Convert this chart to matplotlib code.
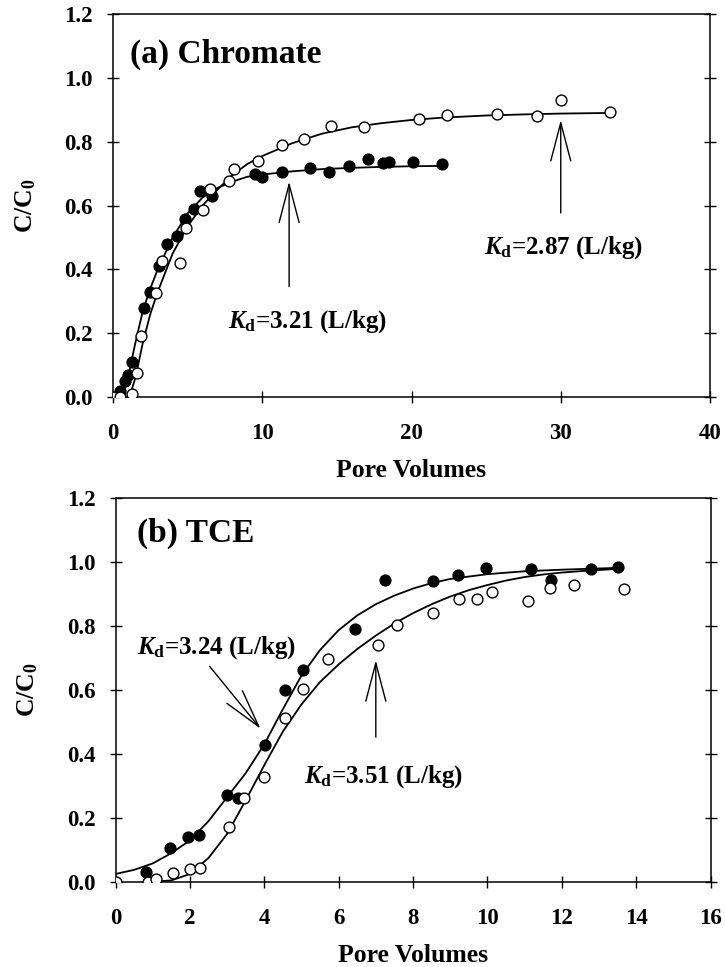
import matplotlib
matplotlib.use("Agg")
import matplotlib.pyplot as plt

plt.rcParams['font.family'] = ['Liberation Serif', 'DejaVu Serif']
plt.rcParams['font.weight'] = 'bold'
plt.rcParams['mathtext.fontset'] = 'custom'
plt.rcParams['mathtext.rm'] = 'Liberation Serif:bold'
plt.rcParams['mathtext.it'] = 'Liberation Serif:italic:bold'
plt.rcParams['mathtext.bf'] = 'Liberation Serif:bold'

# (a) Chromate - measured points
a_open_x = [0, 0.5, 1.25, 1.6, 1.9, 2.9, 3.3, 4.5, 4.9, 6.0, 6.5, 7.8, 8.1, 9.7,
            11.35, 12.8, 14.6, 16.8, 20.5, 22.4, 25.7, 28.4, 30.0, 33.3]
a_open_y = [0, 0, 0.01, 0.074, 0.19, 0.325, 0.425, 0.42, 0.53, 0.585, 0.653, 0.677,
            0.715, 0.74, 0.788, 0.807, 0.85, 0.847, 0.871, 0.882, 0.886, 0.879, 0.929, 0.894]
a_fill_x = [0.5, 0.8, 1.0, 1.3, 2.1, 2.5, 3.1, 3.6, 4.3, 4.8, 5.4, 5.8, 6.6, 9.5,
            10.0, 11.35, 13.2, 14.5, 15.8, 17.1, 18.1, 18.5, 20.1, 22.05]
a_fill_y = [0.02, 0.05, 0.07, 0.11, 0.28, 0.33, 0.41, 0.48, 0.505, 0.558, 0.59, 0.644,
            0.63, 0.70, 0.688, 0.706, 0.719, 0.706, 0.725, 0.745, 0.732, 0.736, 0.736, 0.73]

# (a) fitted curves
a_fit1_x = [0.6, 1.0, 1.5, 2.0, 2.5, 3.0, 3.5, 4.0, 5.0, 6.0, 7.0, 8.0, 9.0, 10.0,
            12.0, 14.0, 16.0, 18.0, 20.0, 22.05]
a_fit1_y = [0.0, 0.06, 0.17, 0.27, 0.34, 0.40, 0.45, 0.50, 0.575, 0.625, 0.655, 0.675,
            0.69, 0.697, 0.707, 0.714, 0.718, 0.721, 0.723, 0.724]
a_fit2_x = [1.1, 1.5, 2.0, 2.5, 3.0, 3.5, 4.0, 5.0, 6.0, 7.0, 8.0, 9.0, 10.0, 12.0,
            14.0, 16.0, 18.0, 20.0, 22.0, 25.0, 28.0, 30.0, 33.3]
a_fit2_y = [0.0, 0.06, 0.17, 0.26, 0.33, 0.39, 0.45, 0.535, 0.60, 0.65, 0.695, 0.73,
            0.755, 0.795, 0.825, 0.845, 0.858, 0.868, 0.875, 0.882, 0.886, 0.888, 0.89]

# (b) TCE - measured points
b_fill_x = [0.83, 1.47, 1.94, 2.24, 3.0, 3.29, 4.03, 4.57, 5.05, 6.44, 7.24, 8.54,
            9.22, 9.97, 11.16, 11.7, 12.78, 13.5]
b_fill_y = [0.031, 0.106, 0.141, 0.146, 0.271, 0.263, 0.427, 0.601, 0.664, 0.792,
            0.943, 0.94, 0.958, 0.982, 0.977, 0.943, 0.979, 0.984]
b_open_x = [0, 0.87, 1.1, 1.54, 1.99, 2.26, 3.06, 3.45, 3.99, 4.55, 5.04, 5.72, 7.05,
            7.57, 8.54, 9.25, 9.72, 10.13, 11.09, 11.69, 12.33, 13.68]
b_open_y = [0, 0, 0.01, 0.028, 0.04, 0.044, 0.172, 0.264, 0.328, 0.511, 0.604, 0.696,
            0.742, 0.804, 0.842, 0.883, 0.883, 0.906, 0.877, 0.92, 0.927, 0.917]

# (b) fitted curves
b_fit1_x = [0, 0.5, 1.0, 1.5, 2.0, 2.5, 3.0, 3.5, 4.0, 4.5, 5.0, 5.5, 6.0, 6.5, 7.0,
            7.5, 8.0, 8.5, 9.0, 10.0, 11.0, 12.0, 13.6]
b_fit1_y = [0.025, 0.038, 0.058, 0.09, 0.13, 0.19, 0.265, 0.34, 0.43, 0.54, 0.645,
            0.725, 0.787, 0.833, 0.868, 0.895, 0.917, 0.934, 0.947, 0.962, 0.971, 0.976, 0.982]
b_fit2_x = [0.9, 1.5, 2.0, 2.5, 3.0, 3.5, 4.0, 4.5, 5.0, 5.5, 6.0, 6.5, 7.0, 7.5, 8.0,
            8.5, 9.0, 9.5, 10.0, 10.5, 11.0, 11.5, 12.0, 12.7, 13.6]
b_fit2_y = [0.0, 0.005, 0.025, 0.075, 0.15, 0.255, 0.365, 0.47, 0.555, 0.625, 0.68,
            0.728, 0.77, 0.808, 0.84, 0.868, 0.892, 0.912, 0.928, 0.942, 0.953, 0.961,
            0.967, 0.973, 0.979]

fig = plt.figure(figsize=(7.25, 9.67), dpi=100)
ax1 = fig.add_axes([113 / 725, 1 - 397 / 967, 597 / 725, 383 / 967])
ax2 = fig.add_axes([115.5 / 725, 1 - 882 / 967, 595 / 725, 384 / 967])

ms = 7.8
tick_fs = 16.5
lab_fs = 18.5
ann_fs = 18


def style(ax, xmax, xstep):
    ax.set_xlim(0, xmax)
    ax.set_ylim(0, 1.2)
    ax.set_xticks(range(0, xmax + 1, xstep))
    ax.set_yticks([0, 0.2, 0.4, 0.6, 0.8, 1.0, 1.2])
    ax.set_yticklabels(['0.0', '0.2', '0.4', '0.6', '0.8', '1.0', '1.2'])
    ax.tick_params(direction='inout', length=9, width=1, labelsize=tick_fs, right=True)
    ax.tick_params(axis='y', pad=10)
    ax.tick_params(axis='x', pad=14)
    for s in ax.spines.values():
        s.set_linewidth(1.1)
    ax.set_xlabel('Pore Volumes', fontsize=lab_fs, fontweight='bold', labelpad=11)
    ax.set_ylabel('C/C$_\\mathrm{0}$', fontsize=lab_fs, fontweight='bold', labelpad=19)


arrow = dict(arrowstyle='->,head_length=2.75,head_width=0.72', lw=1, color='black',
             shrinkA=0, shrinkB=0)

# panel (a)
ax1.plot(a_fit1_x, a_fit1_y, '-', color='black', lw=1.3, zorder=2)
ax1.plot(a_fit2_x, a_fit2_y, '-', color='black', lw=1.3, zorder=2)
ax1.plot(a_fill_x, a_fill_y, 'o', color='black', ms=ms, zorder=3)
ax1.plot(a_open_x, a_open_y, 'o', mfc='white', mec='black', mew=1, ms=ms, zorder=4)
style(ax1, 40, 10)
ax1.text(1.15, 1.072, '(a) Chromate', fontsize=24, fontweight='bold', va='center')
ax1.annotate('', xy=(11.8, 0.675), xytext=(11.8, 0.346), arrowprops=arrow)
ax1.text(13.0, 0.236, '$K_\\mathrm{d}$=3.21 (L/kg)', fontsize=ann_fs, ha='center', va='center')
ax1.annotate('', xy=(30.0, 0.868), xytext=(30.0, 0.577), arrowprops=arrow)
ax1.text(30.2, 0.467, '$K_\\mathrm{d}$=2.87 (L/kg)', fontsize=ann_fs, ha='center', va='center')

# panel (b)
ax2.plot(b_fit1_x, b_fit1_y, '-', color='black', lw=1.3, zorder=2)
ax2.plot(b_fit2_x, b_fit2_y, '-', color='black', lw=1.3, zorder=2)
ax2.plot(b_fill_x, b_fill_y, 'o', color='black', ms=ms, zorder=3)
ax2.plot(b_open_x, b_open_y, 'o', mfc='white', mec='black', mew=1, ms=ms, zorder=4)
style(ax2, 16, 2)
ax2.text(0.57, 1.089, '(b) TCE', fontsize=24, fontweight='bold', va='center')
ax2.annotate('', xy=(3.9, 0.479), xytext=(2.53, 0.674), arrowprops=arrow)
ax2.text(2.72, 0.734, '$K_\\mathrm{d}$=3.24 (L/kg)', fontsize=ann_fs, ha='center', va='center')
ax2.annotate('', xy=(7.0, 0.693), xytext=(7.0, 0.453), arrowprops=arrow)
ax2.text(7.21, 0.328, '$K_\\mathrm{d}$=3.51 (L/kg)', fontsize=ann_fs, ha='center', va='center')

fig.savefig('out.png', dpi=100)
